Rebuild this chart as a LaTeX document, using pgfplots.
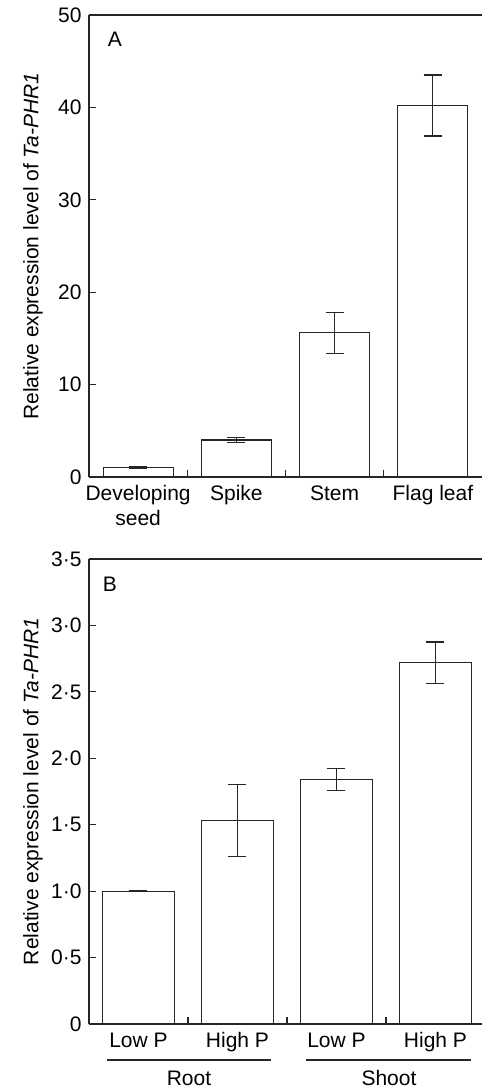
\documentclass[border=0pt]{standalone}
\usepackage{fontspec}
\setmainfont{Liberation Sans}
\usepackage{pgfplots}
\pgfplotsset{compat=1.18}

\begin{document}
\fontsize{10.5}{12.6}\selectfont
\begin{tikzpicture}
\pgfplotsset{
  panel/.style={
    scale only axis, width=196.5pt,
    axis x line*=box, axis y line*=left,
    ybar, bar width=35pt, ymin=0,
    tick align=inside, major tick length=3.5pt,
    xtick pos=bottom, ytick pos=left,
    xtick={0.5,1.5,2.5}, xticklabels={},
    extra x tick style={major tick length=0pt},
    tick label style={font=\fontsize{10.5}{12.6}\selectfont},
    xticklabel style={align=center, yshift=1pt},
    axis line style={line width=0.6pt, black!85},
    tick style={line width=0.6pt, black!85},
    clip=false,
    ylabel={Relative expression level of \textit{Ta-PHR1}},
    ylabel style={at={(axis description cs:-0.1425,0.5)}, anchor=center,
      font=\fontsize{10.5}{12.6}\selectfont},
  },
  barstyle/.style={draw=black!85, fill=white, line width=0.6pt,
    error bars/.cd, y dir=both, y explicit,
    error bar style={line width=0.6pt, black!85},
    error mark options={rotate=90, mark size=4.5pt, line width=0.6pt, black!85}},
}

% panel A: tissues
\begin{axis}[panel,
  at={(44.5pt,-238.5pt)}, anchor=south west, height=231pt,
  xmin=-0.5, xmax=3.5, ymax=50,
  ytick={0,10,20,30,40,50}, yticklabels={0,10,20,30,40,50},
  extra x ticks={0,1,2,3},
  extra x tick labels={\strut Developing\\seed,\strut Spike,\strut Stem,\strut Flag leaf},
]
\addplot[barstyle] coordinates {
  (0,1.05) +- (0,0.08)
  (1,4.0)  +- (0,0.3)
  (2,15.6) +- (0,2.2)
  (3,40.2) +- (0,3.3)
};
\node[anchor=center] at (rel axis cs:0.066,0.948) {A};
\end{axis}

% panel B: root / shoot under low and high P
\begin{axis}[panel, bar width=36pt,
  at={(44.5pt,-512pt)}, anchor=south west, height=232.5pt,
  xmin=-0.5, xmax=3.47, ymax=3.5,
  ytick={0,0.5,1,1.5,2,2.5,3,3.5},
  yticklabels={0,0·5,1·0,1·5,2·0,2·5,3·0,3·5},
  extra x ticks={0,1,2,3},
  extra x tick labels={\strut Low P,\strut High P,\strut Low P,\strut High P},
]
\addplot[barstyle] coordinates {
  (0,1.0)  +- (0,0.005)
  (1,1.53) +- (0,0.27)
  (2,1.84) +- (0,0.085)
  (3,2.72) +- (0,0.155)
};
\node[anchor=center] at (rel axis cs:0.053,0.946) {B};
\draw[line width=0.6pt, black!85] ([yshift=-18pt]axis cs:-0.32,0) -- ([yshift=-18pt]axis cs:1.34,0);
\draw[line width=0.6pt, black!85] ([yshift=-18pt]axis cs:1.69,0) -- ([yshift=-18pt]axis cs:3.36,0);
\node at ([yshift=-27pt]axis cs:0.51,0) {Root};
\node at ([yshift=-27pt]axis cs:2.53,0) {Shoot};
\end{axis}

\pgfresetboundingbox
\path[use as bounding box] (0,0) rectangle (241pt,-544pt);
\end{tikzpicture}
\end{document}
